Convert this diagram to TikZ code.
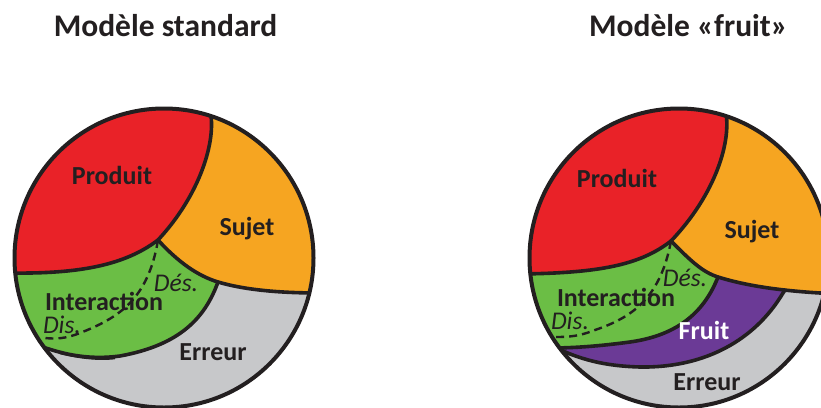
\documentclass[tikz,border=0pt]{standalone}
\usepackage{fontspec}
\setmainfont{Carlito}
\definecolor{cRed}{HTML}{E92228}
\definecolor{cOrange}{HTML}{F6A521}
\definecolor{cGreen}{HTML}{6BBE45}
\definecolor{cGrey}{HTML}{C7C8CA}
\definecolor{cPurple}{HTML}{6B3A96}
\definecolor{ink}{HTML}{231F20}
\begin{document}
\begin{tikzpicture}[x=1pt,y=-1pt,
  bline/.style={line width=3.6pt, draw=ink, line join=round, line cap=round},
  rim/.style={line width=4pt, draw=ink},
  dashline/.style={line width=2.4pt, draw=ink, dash pattern=on 8pt off 5pt},
  lab/.style={font=\fontsize{26}{26}\selectfont\bfseries, text=ink, anchor=base, inner sep=0pt},
  ilab/.style={font=\fontsize{25.5}{25.5}\selectfont\itshape, text=ink, anchor=base, inner sep=0pt},
  ttl/.style={font=\fontsize{31.5}{32}\selectfont\bfseries, text=ink, anchor=base, inner sep=0pt}]
\path[use as bounding box] (0,0) rectangle (821,407);

% ---------- left circle: standard model ----------
\begin{scope}
\clip (164,258) circle[radius=149.5pt];
\fill[cGrey] (164,258) circle[radius=151pt];
\fill[cGreen] (218,282) .. controls (205,318) and (180,345) .. (120,356)
  .. controls (90,360) and (65,355) .. (40,346) -- (0,340) -- (0,200) -- (158,200) -- (230,260) -- cycle;
\fill[cOrange] (158,240) .. controls (178,262) and (198,276) .. (218,282)
  .. controls (245,290) and (280,293) .. (320,293) -- (320,100) -- (210,100) -- (210,112)
  .. controls (217,140) and (200,195) .. (158,240) -- cycle;
\fill[cRed] (210,100) -- (210,112) .. controls (217,140) and (200,195) .. (158,240)
  .. controls (125,265) and (80,274) .. (10,273) -- (0,273) -- (0,100) -- cycle;
\draw[bline] (210,110) .. controls (217,140) and (200,195) .. (158,240)
  .. controls (125,265) and (80,274) .. (10,273);
\draw[bline] (158,240) .. controls (178,262) and (198,276) .. (218,282)
  .. controls (245,290) and (280,293) .. (320,293);
\draw[bline] (218,282) .. controls (205,318) and (180,345) .. (120,356)
  .. controls (90,360) and (65,355) .. (40,346);
\draw[line width=2.4pt, draw=ink] (60,353) .. controls (80,358) and (100,360) .. (115,358);
\draw[dashline] (158,240) .. controls (148,300) and (118,318) .. (80,333)
  .. controls (65,339) and (55,339) .. (45,338);
\end{scope}
\draw[rim] (164,258) circle[radius=149.5pt];

\node[ttl] (t1) at (165.5,36.7) {Modèle standard};
\node[lab] (p1) at (112,184) {Produit};
\node[lab] (s1) at (247,235.7) {Sujet};
\node[lab] (i1) at (104,310.7) {Interaction};
\node[ilab] (d1) at (176,291.7) {Dés.};
\node[ilab] (ds1) at (62,333) {Dis.};
\node[lab] (e1) at (213,360) {Erreur};

% ---------- right circle: fruit model ----------
\begin{scope}
\clip (679,258) circle[radius=149.5pt];
\fill[cGrey] (679,258) circle[radius=151pt];
\fill[cPurple] (790,283) -- (783,293) .. controls (755,340) and (705,368) .. (640,367)
  .. controls (605,366) and (580,360) .. (550,345) -- (520,345) -- (520,200) -- (840,200) -- (840,283) -- cycle;
\fill[cGreen] (718,277) .. controls (705,310) and (680,335) .. (630,342)
  .. controls (600,346) and (575,348) .. (550,348) -- (520,348) -- (520,200) -- (671,200) -- (730,260) -- cycle;
\fill[cOrange] (671,241) .. controls (690,260) and (702,272) .. (718,277)
  .. controls (750,287) and (790,292) .. (840,294) -- (840,100) -- (725,100) -- (725,110)
  .. controls (733,140) and (715,195) .. (671,241) -- cycle;
\fill[cRed] (725,100) -- (725,110) .. controls (733,140) and (715,195) .. (671,241)
  .. controls (640,265) and (600,273) .. (520,274) -- (510,274) -- (510,100) -- cycle;
\draw[bline] (725,108) .. controls (733,140) and (715,195) .. (671,241)
  .. controls (640,265) and (600,273) .. (520,274);
\draw[bline] (671,241) .. controls (690,260) and (702,272) .. (718,277)
  .. controls (750,287) and (790,292) .. (840,294);
\draw[bline] (718,277) .. controls (705,310) and (680,335) .. (630,342)
  .. controls (600,346) and (575,348) .. (550,348);
\draw[bline] (785,290) -- (783,293) .. controls (755,340) and (705,368) .. (640,367)
  .. controls (605,366) and (580,360) .. (550,345);
\draw[dashline] (671,241) .. controls (660,300) and (630,318) .. (595,330)
  .. controls (580,336) and (570,337) .. (556,337);
\end{scope}
\draw[rim] (679,258) circle[radius=149.5pt];

\node[ttl] (t2) at (688.5,36.7) {Modèle «fruit»};
\node[lab] (p2) at (617,187.3) {Produit};
\node[lab] (s2) at (752,238.3) {Sujet};
\node[lab] (i2) at (616,306.7) {Interaction};
\node[ilab] (d2) at (685,286.7) {Dés.};
\node[ilab] (ds2) at (570,329) {Dis.};
\node[lab, text=white] (f2) at (704,339.3) {Fruit};
\node[lab] (e2) at (707,390) {Erreur};
\end{tikzpicture}
\end{document}
